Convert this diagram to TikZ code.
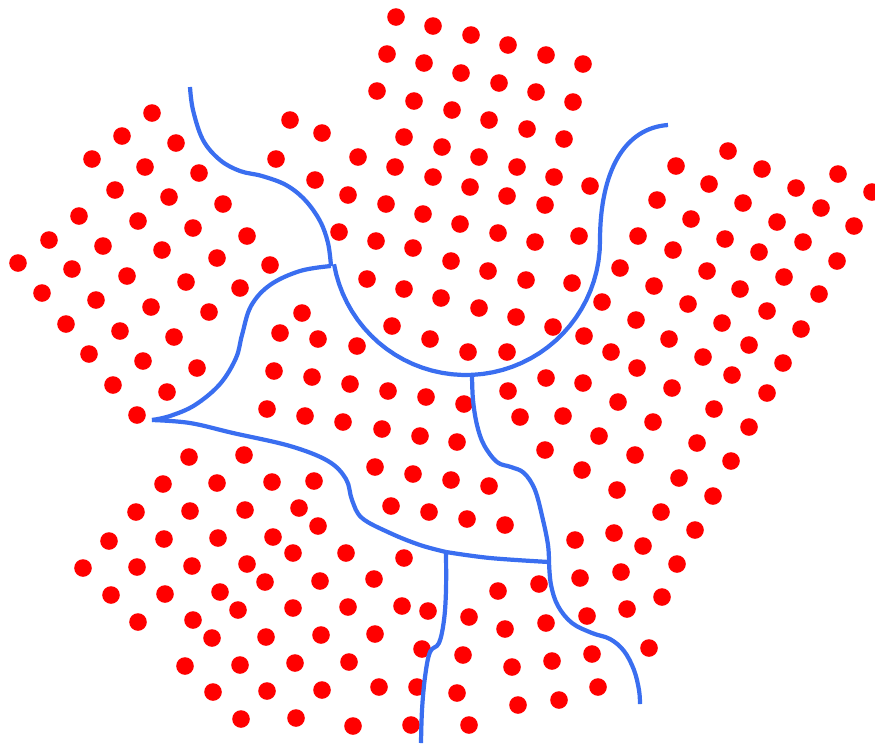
\documentclass[tikz,border=0pt]{standalone}
\usepackage{tikz}
\usetikzlibrary{calc}

\definecolor{gbblue}{RGB}{58,110,240}
\definecolor{atomred}{RGB}{255,0,0}

\begin{document}
\begin{tikzpicture}[
    x=0.03cm, y=-0.03cm,
    % styles
    atom/.style     = {fill=atomred, draw=none},
    boundary/.style = {draw=gbblue, line width=3.6pt},
  ]

\useasboundingbox (0,0) rectangle (875,745);

% ============================================================
% Triple junctions of the grain boundaries
% ============================================================
\coordinate (jtop)   at (331,266);
\coordinate (jleft)  at (152,420);
\coordinate (jbot)   at (472,375);
\coordinate (jmid)   at (446,552);
\coordinate (jright) at (549,562);

% ============================================================
% Atoms, grain by grain
% ============================================================
% left grain
\foreach \x/\y in {152/113,122/136,176/143,92/159,145/167,199/173,115/190,
    169/197,223/204,79/216,138/221,193/228,247/236,49/240,103/246,162/250,
    217/258,270/265,18/263,72/269,127/276,186/282,240/288,42/293,96/300,
    151/307,209/312,66/324,120/331,174/337,89/354,143/361,197/368,113/385,
    167/392,137/415}
  \fill[atom] (\x,\y) circle[radius=2.64mm];

% top grain
\foreach \x/\y in {396/17,433/26,471/35,508/45,546/55,583/64,
    387/54,424/63,461/73,499/83,536/92,573/102,
    377/91,414/101,452/110,489/120,527/129,564/139,
    290/120,322/133,404/137,442/147,479/157,517/167,554/177,
    276/159,358/157,395/167,433/177,470/187,507/196,545/205,590/186,
    315/180,348/195,386/204,423/214,460/224,498/233,535/242,579/236,
    339/232,376/241,413/248,451/261,488/271,526/280,572/283,
    367/279,404/289,441/298,479/308,516/317,553/327,
    392/326,430/339,468/352,507/352}
  \fill[atom] (\x,\y) circle[radius=2.64mm];

% right grain
\foreach \x/\y in {728/151,676/166,762/169,838/174,709/184,796/188,872/192,
    657/200,743/203,821/208,691/219,777/222,854/226,638/236,725/239,803/242,
    673/250,759/252,837/261,620/268,707/271,784/277,654/286,740/289,819/294,
    602/302,688/304,767/311,636/320,722/323,801/329,584/336,669/339,749/345,
    611/352,703/357,783/363,637/368,732/375,583/383,672/388,767/393,618/402,
    714/409,653/422,749/427,599/436,697/443,635/455,731/461,582/470,679/478,
    617/490,713/496,508/391,546/378,520/417,563/416,545/450,
    661/512,695/530,614/533,575/540,643/546,677/564,580/578,621/572,
    662/597,587/616,627/609,649/648}
  \fill[atom] (\x,\y) circle[radius=2.64mm];

% middle grain
\foreach \x/\y in {302/313,280/333,318/339,357/346,274/371,312/377,350/384,
    388/391,426/397,464/404,267/409,305/416,343/422,382/429,420/436,457/442,
    375/467,413/474,451/480,489/486,391/506,429/512,467/519,505/525}
  \fill[atom] (\x,\y) circle[radius=2.64mm];

% lower left grain
\foreach \x/\y in {189/457,244/455,163/484,217/483,272/482,314/481,
    136/512,190/511,245/510,299/508,318/526,
    109/541,164/539,218/538,273/537,293/553,346/553,404/558,
    83/568,137/567,192/566,247/564,265/582,320/581,374/579,
    111/595,165/594,220/592,238/610,293/608,348/607,402/606,428/611,
    138/622,193/620,212/638,266/637,321/635,375/634,422/649,
    185/666,240/665,295/663,349/662,
    213/692,267/691,322/690,379/687,417/687,
    241/719,296/718,353/726,411/725}
  \fill[atom] (\x,\y) circle[radius=2.64mm];

% lower middle grain
\foreach \x/\y in {498/591,539/584,469/617,505/629,546/623,463/655,512/667,
    552/661,592/654,457/693,518/705,559/700,598/687,469/725}
  \fill[atom] (\x,\y) circle[radius=2.64mm];

% ============================================================
% Grain boundaries
% ============================================================
\draw[boundary] plot[smooth, tension=0.6] coordinates
  {(190,87) (193,110) (203,140) (220,160) (240,171) (262,176) (286,185)
   (305,200) (320,221) (328,243) (jtop)};
\draw[boundary] plot[smooth, tension=0.6] coordinates
  {(jtop) (300,271) (270,285) (251,306) (242,335) (236,358) (220,384)
   (195,405) (170,416) (jleft)};
\draw[boundary] plot[smooth, tension=0.6] coordinates
  {(jleft) (190,423) (233,433) (290,446) (328,461) (346,479) (352,500)
   (362,518) (390,533) (420,545) (jmid)};
\draw[boundary] plot[smooth, tension=0.6] coordinates
  {(jmid) (490,558) (jright)};
\draw[boundary] plot[smooth, tension=0.6] coordinates
  {(jmid) (446,590) (444,620) (439,643) (430,652) (425,677) (422,710) (421,743)};
% big arc round the top grain
\draw[boundary] (jtop)
  plot[domain=170:0, samples=40] ({466+134*cos(\x)},{241+134*sin(\x)})
  .. controls (600,170) and (625,128) .. (668,125);
\draw[boundary] plot[smooth, tension=0.6] coordinates
  {(jbot) (473,400) (477,425) (484,445) (497,462) (511,467) (524,473)
   (535,490) (543,520) (548,545) (jright)};
\draw[boundary] plot[smooth, tension=0.6] coordinates
  {(jright) (551,585) (558,606) (572,623) (592,633) (610,639) (624,651)
   (634,670) (639,690) (640,704)};

\end{tikzpicture}
\end{document}
